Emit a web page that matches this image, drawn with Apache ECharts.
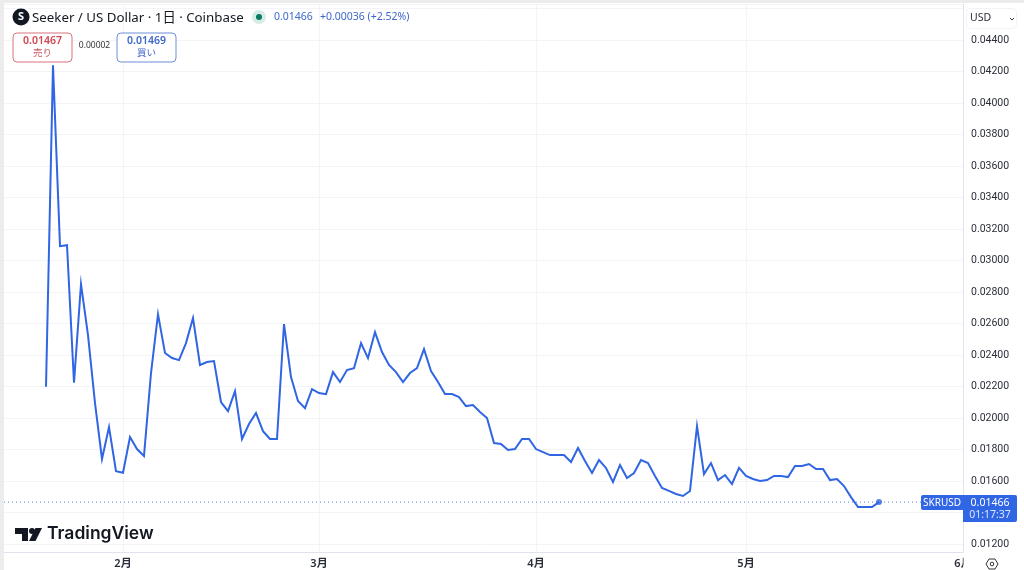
<!DOCTYPE html>
<html><head><meta charset="utf-8">
<style>html,body{margin:0;padding:0;background:#fff}#c{width:1024px;height:570px}</style>
<script src="https://cdn.jsdelivr.net/npm/echarts@6/dist/echarts.min.js"></script>
</head><body><div id="c"></div>
<script>
const closes = [
.02199,.04241,.03092,.03098,.02224,.02851,.02527,.02095,.01740,.01943,.01663,.01653,
.01879,.01803,.01759,.02286,.02660,.02413,.02381,.02368,.02476,.02635,.02337,.02356,.02362,
.02102,.02044,.02171,.01867,.01962,.02032,.01917,.01867,.01867,.02597,.02260,.02108,.02063,
.02184,.02159,.02152,.02292,.02229,.02305,.02317,.02476,.02381,.02546,.02419,.02337,.02292,
.02229,.02286,.02317,.02438,.02298,.02229,.02152,.02152,.02133,.02076,.02083,.02038,.02000,
.01841,.01835,.01797,.01803,.01867,.01867,.01803,.01784,.01765,.01765,.01765,.01721,.01810,
.01727,.01651,.01733,.01683,.01594,.01702,.01619,.01651,.01733,.01714,.01632,.01556,.01537,
.01518,.01505,.01537,.01949,.01644,.01714,.01606,.01638,.01581,.01683,.01632,.01613,.01600,
.01606,.01632,.01632,.01625,.01695,.01695,.01708,.01676,.01676,.01606,.01613,.01568,.01498,
.01435,.01435,.01435,.01466];
const leadingBlankDays = 6;
const trailingBlankDays = 12;
const axisStart = Date.UTC(2026,0,15);
const categories = Array.from({length: leadingBlankDays+closes.length+trailingBlankDays},
  (_,i)=>new Date(axisStart+i*864e5).toISOString().slice(0,10));
const seriesValues = categories.map((_,i)=>{const v=closes[i-leadingBlankDays];return v===undefined?null:v;});
const yTickLabels = ["0.01200","0.01400","0.01600","0.01800","0.02000","0.02200","0.02400","0.02600","0.02800","0.03000","0.03200","0.03400","0.03600","0.03800","0.04000","0.04200","0.04400"];
const lastPrice = closes[closes.length-1];
const lastIndex = leadingBlankDays+closes.length-1;
const priceLine = categories.map(()=>lastPrice);
const isMonthStart = (i,c)=>c.slice(8)==='01';

const FONT = '"Noto Sans","Noto Sans CJK JP",sans-serif';
const BLUE = '#3065e4';
const GRID = '#f3f4f8';
const txt = (x,y,text,o={})=>({type:'text',x,y,z:o.z||50,style:Object.assign({text,fontFamily:FONT,fontSize:11,fill:'#131722',textVerticalAlign:'middle',textAlign:'left'},o)});
const rect=(x,y,w,h,fill,o={})=>({type:'rect',z:o.z||40,shape:{x,y,width:w,height:h,r:o.r||0},style:{fill,stroke:o.stroke||null,lineWidth:o.lw||1}});
const chart = echarts.init(document.getElementById('c'),null,{renderer:'canvas'});
chart.setOption({
  animation:false,
  backgroundColor:'#ffffff',
  grid:[{left:4,right:61,top:4,height:540},{left:4,right:61,top:544,height:8}],
  xAxis:[
   {type:'category',gridIndex:0,boundaryGap:false,data:categories,
    axisLine:{show:false},axisTick:{show:false},axisLabel:{show:false},
    splitLine:{show:true,interval:isMonthStart,lineStyle:{color:GRID,width:1}}},
   {type:'category',gridIndex:1,boundaryGap:false,data:categories,
    axisLine:{show:true,lineStyle:{color:'#e0e3eb'}},axisTick:{show:false},
    axisLabel:{interval:isMonthStart,showMaxLabel:true,hideOverlap:false,fontFamily:FONT,fontSize:11,fontWeight:600,color:'#2a2e39',margin:6,
      formatter:c=>(+c.slice(5,7))+'月'},
    splitLine:{show:true,interval:isMonthStart,lineStyle:{color:GRID,width:1}}}],
  yAxis:[
   {type:'value',gridIndex:0,position:'right',min:0.012,max:0.0463,interval:0.002,
    axisLine:{show:true,lineStyle:{color:'#e0e3eb'}},axisTick:{show:false},
    axisLabel:{fontFamily:'Roboto,"Noto Sans",sans-serif',fontSize:10.5,color:'#2a2e39',margin:8,hideOverlap:false,padding:[2,0,0,0],
      formatter:v=>{const s=v.toFixed(5);return yTickLabels.includes(s)?s:'';}},
    splitLine:{show:true,lineStyle:{color:GRID,width:1}}},
   {type:'value',gridIndex:1,position:'right',min:0,max:1,
    axisLine:{show:true,lineStyle:{color:'#e0e3eb'}},axisTick:{show:false},axisLabel:{show:false},splitLine:{show:false}}],
  series:[
    {type:'line',data:priceLine,showSymbol:false,z:1,lineStyle:{color:BLUE,type:[1,3],width:1,opacity:.8}},
    {type:'line',data:seriesValues,showSymbol:false,z:3,connectNulls:false,lineStyle:{color:BLUE,width:2,join:'miter'}},
    {type:'scatter',data:[[lastIndex,lastPrice]],z:4,symbol:'circle',symbolSize:6,itemStyle:{color:BLUE}}
  ],
  graphic:{elements:[
    rect(0,0,1024,3,'#ececec'),rect(0,0,4,570,'#ececec'),
    // header
    {type:'circle',z:50,shape:{cx:21,cy:17,r:8.5},style:{fill:'#131722'}},
    txt(21,17,'S',{fill:'#fff',fontSize:11,fontWeight:700,textAlign:'center'}),
    txt(32,18,'Seeker / US Dollar · 1日 · Coinbase',{fontSize:13.3,fill:'#131722'}),
    {type:'circle',z:50,shape:{cx:259,cy:17,r:7},style:{fill:'#d5ece7'}},
    {type:'circle',z:51,shape:{cx:259,cy:17,r:3},style:{fill:'#0b7a63'}},
    txt(274,17.5,'0.01466',{fill:'#3e67c9',fontSize:10.5}),
    txt(320,17.5,'+0.00036 (+2.52%)',{fill:'#3e67c9',fontSize:10.5}),
    // sell/buy
    rect(13,33,59,29,'#fff',{r:4,stroke:'#d8747c',z:45}),
    txt(42.5,41,'0.01467',{fill:'#d0454f',fontSize:10.5,fontWeight:600,textAlign:'center'}),
    txt(42.5,53,'売り',{fill:'#d0555f',fontSize:9.5,textAlign:'center'}),
    txt(94.5,46,'0.00002',{fontSize:8.5,fill:'#333',textAlign:'center'}),
    rect(117,33,59,29,'#fff',{r:4,stroke:'#6f8fd8',z:45}),
    txt(146.5,41,'0.01469',{fill:'#3e67c9',fontSize:10.5,fontWeight:600,textAlign:'center'}),
    txt(146.5,53,'買い',{fill:'#3e67c9',fontSize:9.5,textAlign:'center'}),
    // USD
    rect(966.5,8.5,50,20,'#fff',{r:4,stroke:'#f2f3f6',z:45}),
    txt(970,18.5,'USD',{fontSize:10.5,fill:'#2a2e39'}),
    {type:'polyline',z:50,shape:{points:[[1010,18],[1012,20],[1014,18]]},style:{stroke:'#444',fill:null,lineWidth:1}},
    // price tags
    rect(921,495,42,15,BLUE,{r:[2,0,0,2]}),
    txt(942,503,'SKRUSD',{fill:'#fff',fontSize:10,textAlign:'center'}),
    rect(963,495,54,27,BLUE,{r:[0,2,2,0]}),
    txt(990,503,'0.01466',{fill:'#fff',fontSize:10.5,textAlign:'center'}),
    txt(990,515,'01:17:37',{fill:'#dbe5ff',fontSize:10.5,textAlign:'center'}),
    // corner cover (clips the 6月 label) and settings icon
    rect(963.5,553,60.5,17,'#fff',{z:60}),
    {type:'polygon',z:61,shape:{points:[[986,564],[989,559],[995,559],[998,564],[995,569],[989,569]]},style:{fill:'#fff',stroke:'#333',lineWidth:1}},
    {type:'circle',z:62,shape:{cx:992,cy:564,r:1.8},style:{fill:'#fff',stroke:'#333',lineWidth:1}},
    // logo
    {type:'polygon',z:50,shape:{points:[[15,528],[28,528],[28,541],[22,541],[22,534],[15,534]]},style:{fill:'#131722'}},
    {type:'circle',z:50,shape:{cx:32,cy:531,r:3},style:{fill:'#131722'}},
    {type:'polygon',z:50,shape:{points:[[35.5,528],[42,528],[35.5,541],[29,541]]},style:{fill:'#131722'}},
    txt(47,534,'TradingView',{fontSize:17.5,fontWeight:600,fill:'#131722',fontFamily:'Inter,"Noto Sans",sans-serif'})
  ]}
});
</script></body></html>
